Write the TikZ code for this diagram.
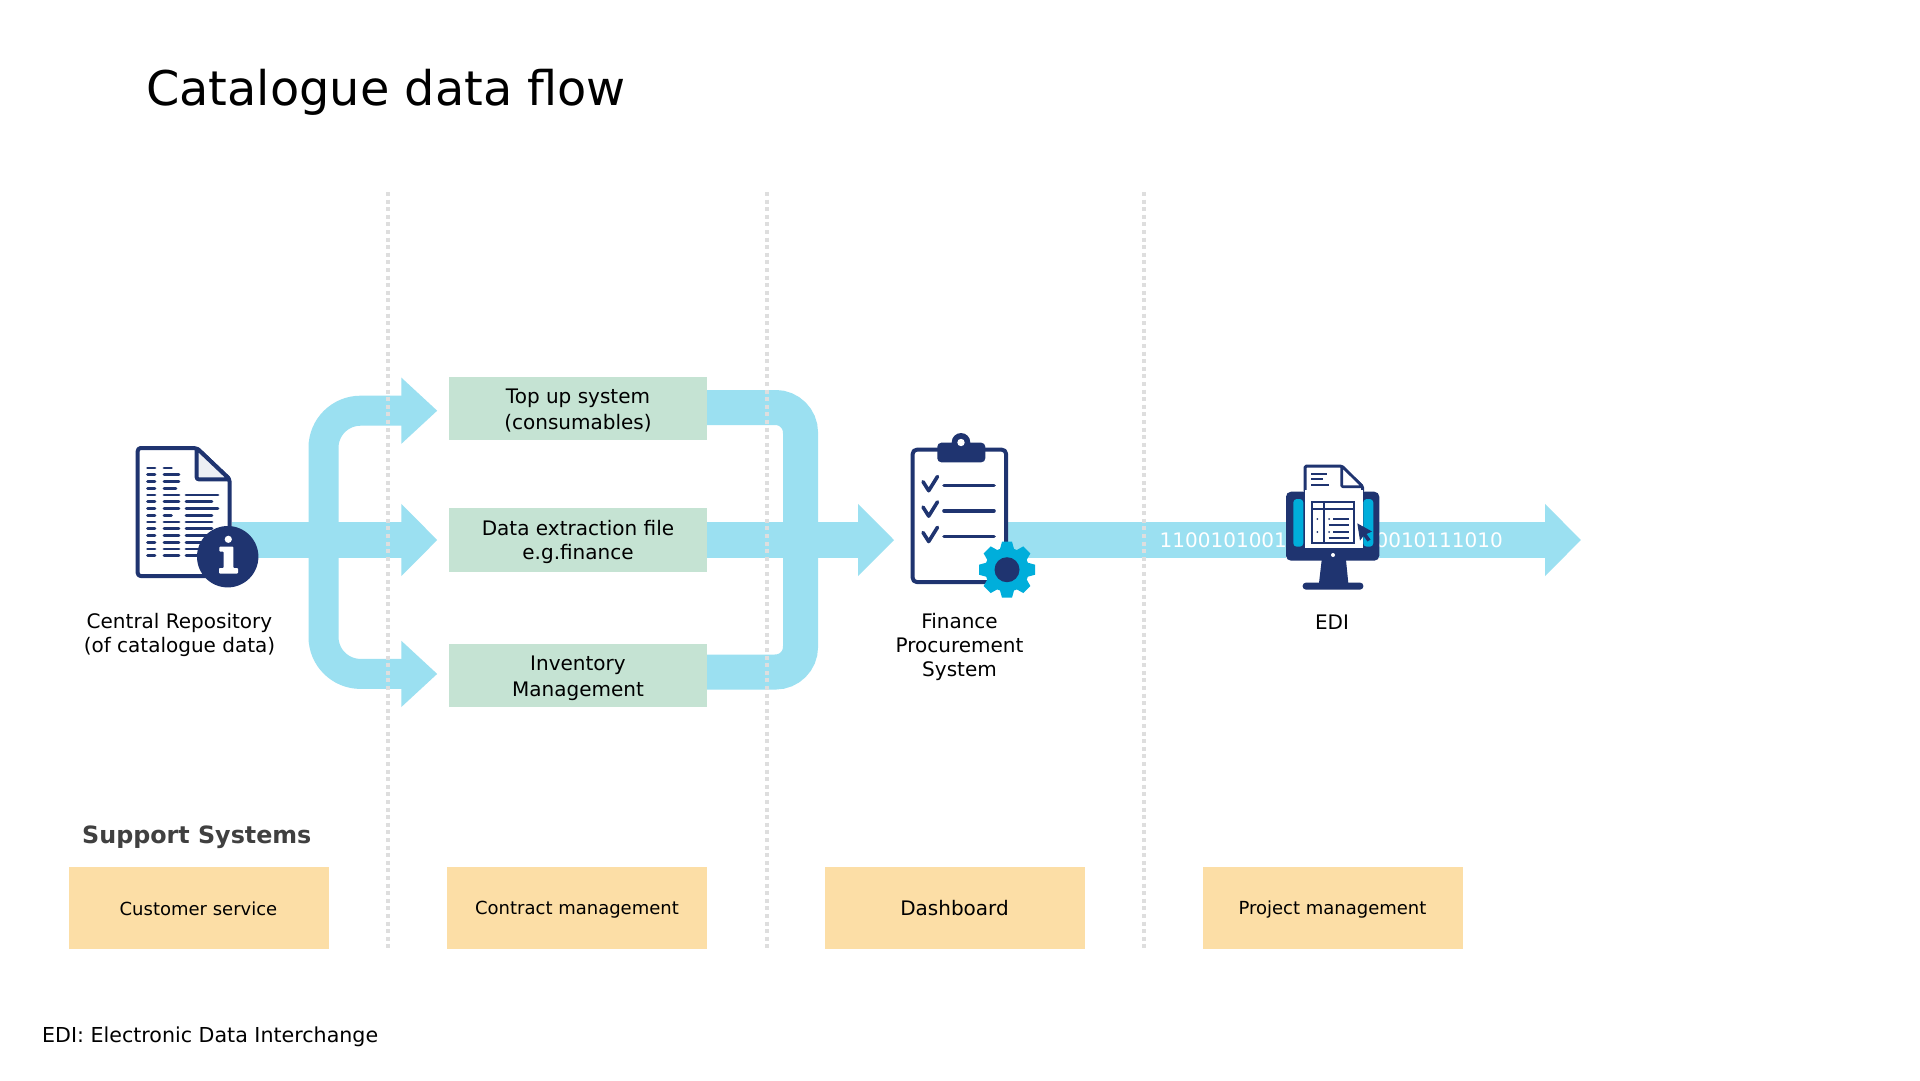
\documentclass[tikz,border=0pt]{standalone}
\usepackage{fontspec}
\setmainfont{DejaVu Sans}
\usetikzlibrary{arrows.meta,calc}
\definecolor{band}{HTML}{9BE0F1}
\definecolor{greenbox}{HTML}{C5E3D3}
\definecolor{orangebox}{HTML}{FCDEA6}
\definecolor{navy}{HTML}{1F3470}
\definecolor{gearcyan}{HTML}{00AEDB}
\definecolor{dotgray}{HTML}{DEDEDE}
\newcommand\stagerule{\rule[-4pt]{0pt}{24pt}}
\newcommand\suprule{\rule[-3pt]{0pt}{20pt}}
\tikzset{
  bandline/.style={draw=band,line width=36pt},
  headed/.style={-{Triangle[length=36pt,width=70pt,fill=band,color=band]}},
  headedside/.style={-{Triangle[length=36pt,width=64pt,fill=band,color=band]}},
  stagebox/.style={fill=greenbox,minimum width=258pt,minimum height=63.5pt,inner sep=0pt,align=center,font=\fontsize{20}{24}\selectfont},
  supportbox/.style={fill=orangebox,minimum width=260pt,minimum height=82pt,inner sep=0pt,font=\fontsize{18}{21}\selectfont},
  caption/.style={align=center,font=\fontsize{20}{24}\selectfont,inner sep=0pt},
  divider/.style={draw=dotgray,line width=4pt,dash pattern=on 4pt off 3.6pt},
  iconbox/.style={inner sep=0pt,minimum width=#1},
  ink/.style={draw=navy,line cap=round,line join=round},
  bits/.style={text=white,font=\fontsize{20}{24}\selectfont,inner sep=0pt}
}
\begin{document}
\begin{tikzpicture}[x=1pt,y=-1pt]
\useasboundingbox[fill=white] (0,0) rectangle (1920,1080);
% anchors
\node[stagebox] (top) at (578,408.5) {\stagerule Top up system\\\stagerule(consumables)};
\node[stagebox] (mid) at (578,540) {\stagerule Data extraction file\\\stagerule e.g.finance};
\node[stagebox] (inv) at (578,675.5) {\stagerule Inventory\\\stagerule Management};
\node[iconbox=96pt,minimum height=132pt] (repo) at (183.7,512) {};
\node[iconbox=97pt,minimum height=136pt] (fin) at (959.5,516) {};
\node[iconbox=93pt,minimum height=69pt] (edi) at (1332.6,526) {};
\coordinate (endtip) at (1581,540);
\coordinate (junc) at (323.5,540);
\coordinate (rjoin) at (800.5,540);
% bands
\draw[bandline,headed,shorten >=11.5pt] (repo.east |- mid.west) -- (mid.west);
\draw[bandline,line width=30pt,rounded corners=37pt,headedside,shorten >=11.5pt]
  (junc) |- ([yshift=-2.2pt]top.west);
\draw[bandline,line width=30pt,rounded corners=37pt,headedside,shorten >=11.5pt]
  (junc) |- ([yshift=1.6pt]inv.west);
\draw[bandline,line width=35pt,rounded corners=25pt]
  ([yshift=1pt]top.east) -| (rjoin) |- ([yshift=3.5pt]inv.east);
\draw[bandline,headed,shorten >=16.7pt] (mid.east) -- (fin.west |- mid.east);
\draw[bandline] (fin.east |- mid.east) -- (edi.west |- mid.east);
\draw[bandline,headed] (edi.east |- mid.east) -- (endtip);
% dividers
\coordinate (d1t) at (388,192); \coordinate (d1b) at (388,949);
\coordinate (d2t) at (766.5,192); \coordinate (d2b) at (766.5,949);
\coordinate (d3t) at (1144,192); \coordinate (d3b) at (1144,949);
\draw[divider] (d1t) -- (d1b);
\draw[divider] (d2t) -- (d2b);
\draw[divider] (d3t) -- (d3b);
% binary text
\node[bits,anchor=west] (b1) at (1159.5,540.5) {1100101001};
\node[bits,anchor=east] (b2) at (1503,540.5) {0010111010};
% texts
\node[anchor=west,inner sep=0pt,font=\fontsize{47.8}{56}\selectfont] (title) at (146,92) {Catalogue data flow};
\node[caption] (repot) at (179.5,635) {Central Repository\\(of catalogue data)};
\node[caption] (fint) at (959.5,647) {Finance\\Procurement\\System};
\node[caption] (edit) at (1332,622) {EDI};
\node[anchor=west,inner sep=0pt,text=black!75,font=\bfseries\fontsize{23.8}{28}\selectfont] (sup) at (82,837) {Support Systems};
\node[supportbox] (s1) at (198.5,908) {\suprule Customer service};
\node[supportbox] (s2) at (577,908) {\suprule Contract management};
\node[supportbox,font=\fontsize{20}{24}\selectfont] (s3) at (954.5,908) {\suprule Dashboard};
\node[supportbox] (s4) at (1332.5,908) {\suprule Project management};
\node[anchor=west,inner sep=0pt,font=\fontsize{20.6}{24}\selectfont] (note) at (42,1036.5) {EDI: Electronic Data Interchange};
% repository icon
\draw[ink,line width=4pt,fill=white,rounded corners=3pt] (137.7,448) -- (196.7,448) -- (229.7,479.3) -- (229.7,576) -- (137.7,576) -- cycle;
\draw[ink,line width=4pt,fill=white!92!navy,rounded corners=2pt] (196.7,448) -- (196.7,479.3) -- (229.7,479.3) -- cycle;
\foreach \yy/\bx/\cx in {468/171.5/0,474.7/179/0,481.5/179/0,488.3/176/0,495/179/218,501.7/179/212,508.5/179/218,515.3/171.5/212,522/179/212,528.7/179/212,535.5/179/212,542.2/179/212,549/179/205,555.7/179/205}{
  \draw[navy,line width=2.7pt,line cap=round] (147.5,\yy) -- (155,\yy);
  \draw[navy,line width=2.7pt,line cap=round] (164,\yy) -- (\bx,\yy);
  \ifdim\cx pt>0pt \draw[navy,line width=2.7pt,line cap=round] (186,\yy) -- (\cx,\yy);\fi
}
\fill[navy] (227.7,556.7) circle[radius=30.7];
\fill[white] (228.3,539.3) circle[radius=3.6];
\fill[white,rounded corners=0.8pt] (219.3,546.7) -- (233.3,546.7) -- (233.3,568) -- (238,568) -- (238,573.5) -- (219,573.5) -- (219,568) -- (223.7,568) -- (223.7,551.5) -- (219.3,551.5) -- cycle;
% clipboard icon
\draw[ink,line width=4pt,fill=white,rounded corners=4pt] (912.7,449.7) rectangle (1006,582);
\fill[navy] (961,442.3) circle[radius=9.3];
\fill[navy,rounded corners=4pt] (937.3,442.7) rectangle (985.3,462.3);
\fill[white] (961,442.5) circle[radius=3.7];
\foreach \dy/\ly in {0/485.3,25.4/510.7,50.8/536.3}{
  \draw[ink,line width=3.6pt] (923,{481.7+\dy}) -- (928.7,{490.7+\dy}) -- (937.5,{476.5+\dy});
  \draw[ink,line width=3.6pt] (944,\ly) -- (994,\ly);
}
\begin{scope}[shift={(1007,569.7)}]
  \fill[gearcyan] (0,0) circle[radius=22];
  \foreach \a in {0,45,...,315}{
    \fill[gearcyan,rotate=\a] (-7.5,-19) -- (-5,-28) -- (5,-28) -- (7.5,-19) -- cycle;
  }
  \fill[navy] (0,0) circle[radius=12.5];
\end{scope}
% EDI icon
\fill[navy,rounded corners=5pt] (1286,491.7) rectangle (1379.3,560.7);
\fill[gearcyan,rounded corners=3.5pt] (1293.3,499) rectangle (1303.3,546.7);
\fill[gearcyan,rounded corners=3.5pt] (1363.3,499) rectangle (1373.3,546.7);
\fill[navy] (1321.7,560) -- (1346,560) -- (1348.3,583) -- (1319,583) -- cycle;
\fill[navy,rounded corners=3pt] (1302.7,582.7) rectangle (1363.3,589.5);
\fill[white] (1333,555) circle[radius=2];
\draw[ink,line width=3pt,fill=white,rounded corners=1.5pt] (1305,492) -- (1305,466) -- (1341.7,466) -- (1362.7,486.7) -- (1362.7,492) -- cycle;
\fill[white] (1305,490) rectangle (1362.7,548);
\draw[ink,line width=2.6pt,fill=white,rounded corners=1pt] (1341.7,466) -- (1341.7,486.7) -- (1362.7,486.7) -- cycle;
\foreach \y/\xe in {474/1326.7,479.3/1322.7,484.7/1329.3}{
  \draw[navy,line width=1.8pt] (1311.3,\y) -- (\xe,\y);
}
\draw[navy,line width=2pt] (1311.7,501.7) rectangle (1353.7,543.3);
\draw[navy,line width=2pt] (1324,501.7) -- (1324,543.3);
\draw[navy,line width=2pt] (1311.7,509.3) -- (1353.7,509.3);
\foreach \y in {519,532}{
  \fill[navy] (1317.3,\y) circle[radius=1];
  \fill[navy] (1329,\y) circle[radius=1];
  \draw[navy,line width=1.8pt] (1333,\y) -- (1349,\y);
}
\foreach \y in {524.7,537.7}{
  \draw[navy,line width=1.8pt] (1328.5,\y) -- (1349,\y);
}
\fill[navy] (1357.3,523.3) -- (1372,531.5) -- (1366.5,534) -- (1370.5,539.5) -- (1367.5,541.5) -- (1363.5,536) -- (1360,540.5) -- cycle;
\end{tikzpicture}
\end{document}
